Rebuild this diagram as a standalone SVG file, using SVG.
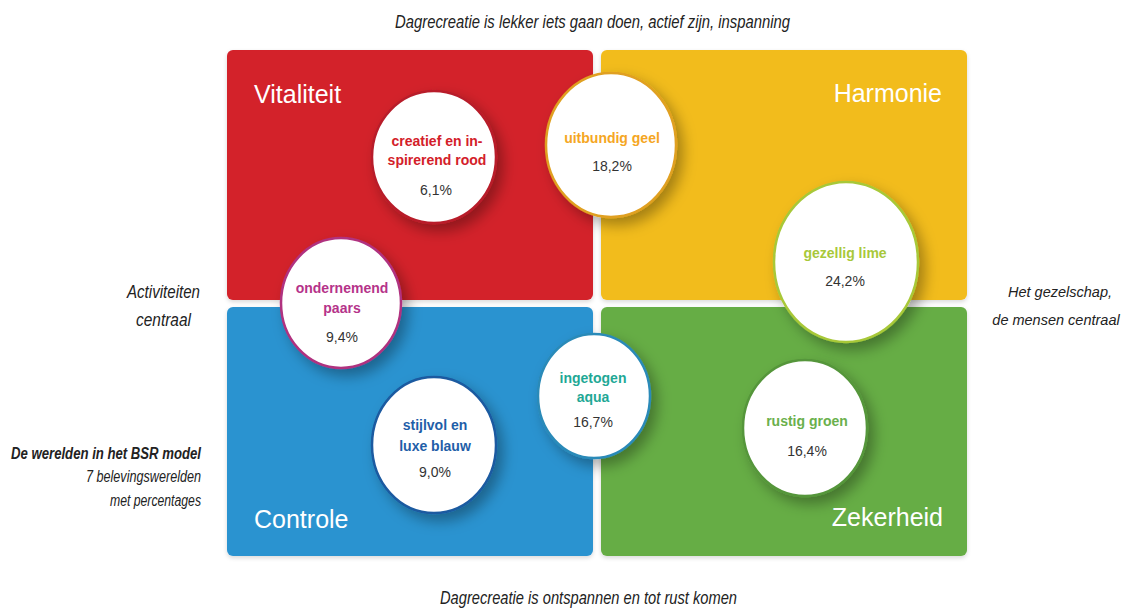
<svg xmlns="http://www.w3.org/2000/svg" width="1126" height="610" viewBox="0 0 1126 610">
<defs>
<style>
.q{font-family:"Liberation Sans",Arial,sans-serif;font-size:25px;fill:#ffffff}
.lbl{font-family:"Liberation Sans",Arial,sans-serif;font-size:14px;font-weight:bold;text-anchor:middle}
.pct{font-family:"Liberation Sans",Arial,sans-serif;font-size:14px;fill:#333333;text-anchor:middle}
.ax{font-family:"Liberation Sans",Arial,sans-serif;font-size:19px;font-style:italic;fill:#222222}
.axr{font-family:"Liberation Sans",Arial,sans-serif;font-size:14.5px;font-style:italic;fill:#222222;text-anchor:middle}
.note{font-family:"Liberation Sans",Arial,sans-serif;font-size:16px;font-style:italic;fill:#222222;text-anchor:end}
.bub{fill:#ffffff;stroke-width:2.5;filter:url(#sh)}
</style>
<filter id="sh" x="-30%" y="-30%" width="170%" height="170%">
<feDropShadow dx="6" dy="7" stdDeviation="7" flood-color="#000000" flood-opacity="0.32"/>
</filter>
<filter id="qs" x="-5%" y="-5%" width="110%" height="110%">
<feDropShadow dx="0" dy="2" stdDeviation="2" flood-color="#000000" flood-opacity="0.15"/>
</filter>
</defs>
<rect width="1126" height="610" fill="#ffffff"/>

<g id="quadrants">
<g id="q-vitaliteit">
<rect x="227" y="50" width="366" height="250" rx="6" fill="#d32029" filter="url(#qs)"/>
<text class="q" x="254" y="103">Vitaliteit</text>
</g>
<g id="q-harmonie">
<rect x="601" y="50" width="366" height="250" rx="6" fill="#f2bc1b" filter="url(#qs)"/>
<text class="q" x="942" y="102" text-anchor="end">Harmonie</text>
</g>
<g id="q-controle">
<rect x="227" y="307" width="366" height="249" rx="6" fill="#2b93d0" filter="url(#qs)"/>
<text class="q" x="254" y="528">Controle</text>
</g>
<g id="q-zekerheid">
<rect x="601" y="307" width="366" height="249" rx="6" fill="#66ad45" filter="url(#qs)"/>
<text class="q" x="943" y="526" text-anchor="end">Zekerheid</text>
</g>
</g>

<g id="connectors"></g>

<g id="n-rood">
<ellipse class="bub" cx="434" cy="157" rx="62" ry="66" stroke="#b81e2a"/>
<text class="lbl" x="437" y="146" fill="#d32029">creatief en in-</text>
<text class="lbl" x="437" y="165" fill="#d32029">spirerend rood</text>
<text class="pct" x="436" y="195">6,1%</text>
</g>
<g id="n-geel">
<ellipse class="bub" cx="611" cy="145" rx="65" ry="72" stroke="#e0a020"/>
<text class="lbl" x="612" y="143" fill="#f5a623">uitbundig geel</text>
<text class="pct" x="612" y="171">18,2%</text>
</g>
<g id="n-paars">
<ellipse class="bub" cx="341" cy="303" rx="60" ry="65" stroke="#b0307f"/>
<text class="lbl" x="342" y="293" fill="#b5338a">ondernemend</text>
<text class="lbl" x="342" y="313" fill="#b5338a">paars</text>
<text class="pct" x="342" y="342">9,4%</text>
</g>
<g id="n-blauw">
<ellipse class="bub" cx="434" cy="445" rx="62" ry="68" stroke="#1a5aa0"/>
<text class="lbl" x="435" y="430" fill="#1f5ea8">stijlvol en</text>
<text class="lbl" x="435" y="451" fill="#1f5ea8">luxe blauw</text>
<text class="pct" x="435" y="477">9,0%</text>
</g>
<g id="n-aqua">
<ellipse class="bub" cx="594" cy="396" rx="56" ry="62" stroke="#2a8ab8"/>
<text class="lbl" x="593" y="383" fill="#1fa896">ingetogen</text>
<text class="lbl" x="593" y="402" fill="#1fa896">aqua</text>
<text class="pct" x="593" y="427">16,7%</text>
</g>
<g id="n-lime">
<ellipse class="bub" cx="846" cy="262" rx="72" ry="80" stroke="#a8c838"/>
<text class="lbl" x="845" y="258" fill="#a8c83a">gezellig lime</text>
<text class="pct" x="845" y="286">24,2%</text>
</g>
<g id="n-groen">
<ellipse class="bub" cx="805" cy="428" rx="62" ry="68" stroke="#55963a"/>
<text class="lbl" x="807" y="426" fill="#6ab04c">rustig groen</text>
<text class="pct" x="807" y="456">16,4%</text>
</g>

<g id="labels">
<text class="ax" x="395" y="28" textLength="395" lengthAdjust="spacingAndGlyphs">Dagrecreatie is lekker iets gaan doen, actief zijn, inspanning</text>
<text class="ax" x="440" y="604" textLength="297" lengthAdjust="spacingAndGlyphs">Dagrecreatie is ontspannen en tot rust komen</text>
<text class="ax" x="127" y="298" textLength="73" lengthAdjust="spacingAndGlyphs">Activiteiten</text>
<text class="ax" x="136" y="326" textLength="55" lengthAdjust="spacingAndGlyphs">centraal</text>
<text class="axr" x="1060" y="297">Het gezelschap,</text>
<text class="axr" x="1056" y="325">de mensen centraal</text>
<text class="note" x="201" y="459" font-weight="bold" textLength="190" lengthAdjust="spacingAndGlyphs">De werelden in het BSR model</text>
<text class="note" x="201" y="482" textLength="115" lengthAdjust="spacingAndGlyphs">7 belevingswerelden</text>
<text class="note" x="201" y="506" textLength="91" lengthAdjust="spacingAndGlyphs">met percentages</text>
</g>
</svg>
